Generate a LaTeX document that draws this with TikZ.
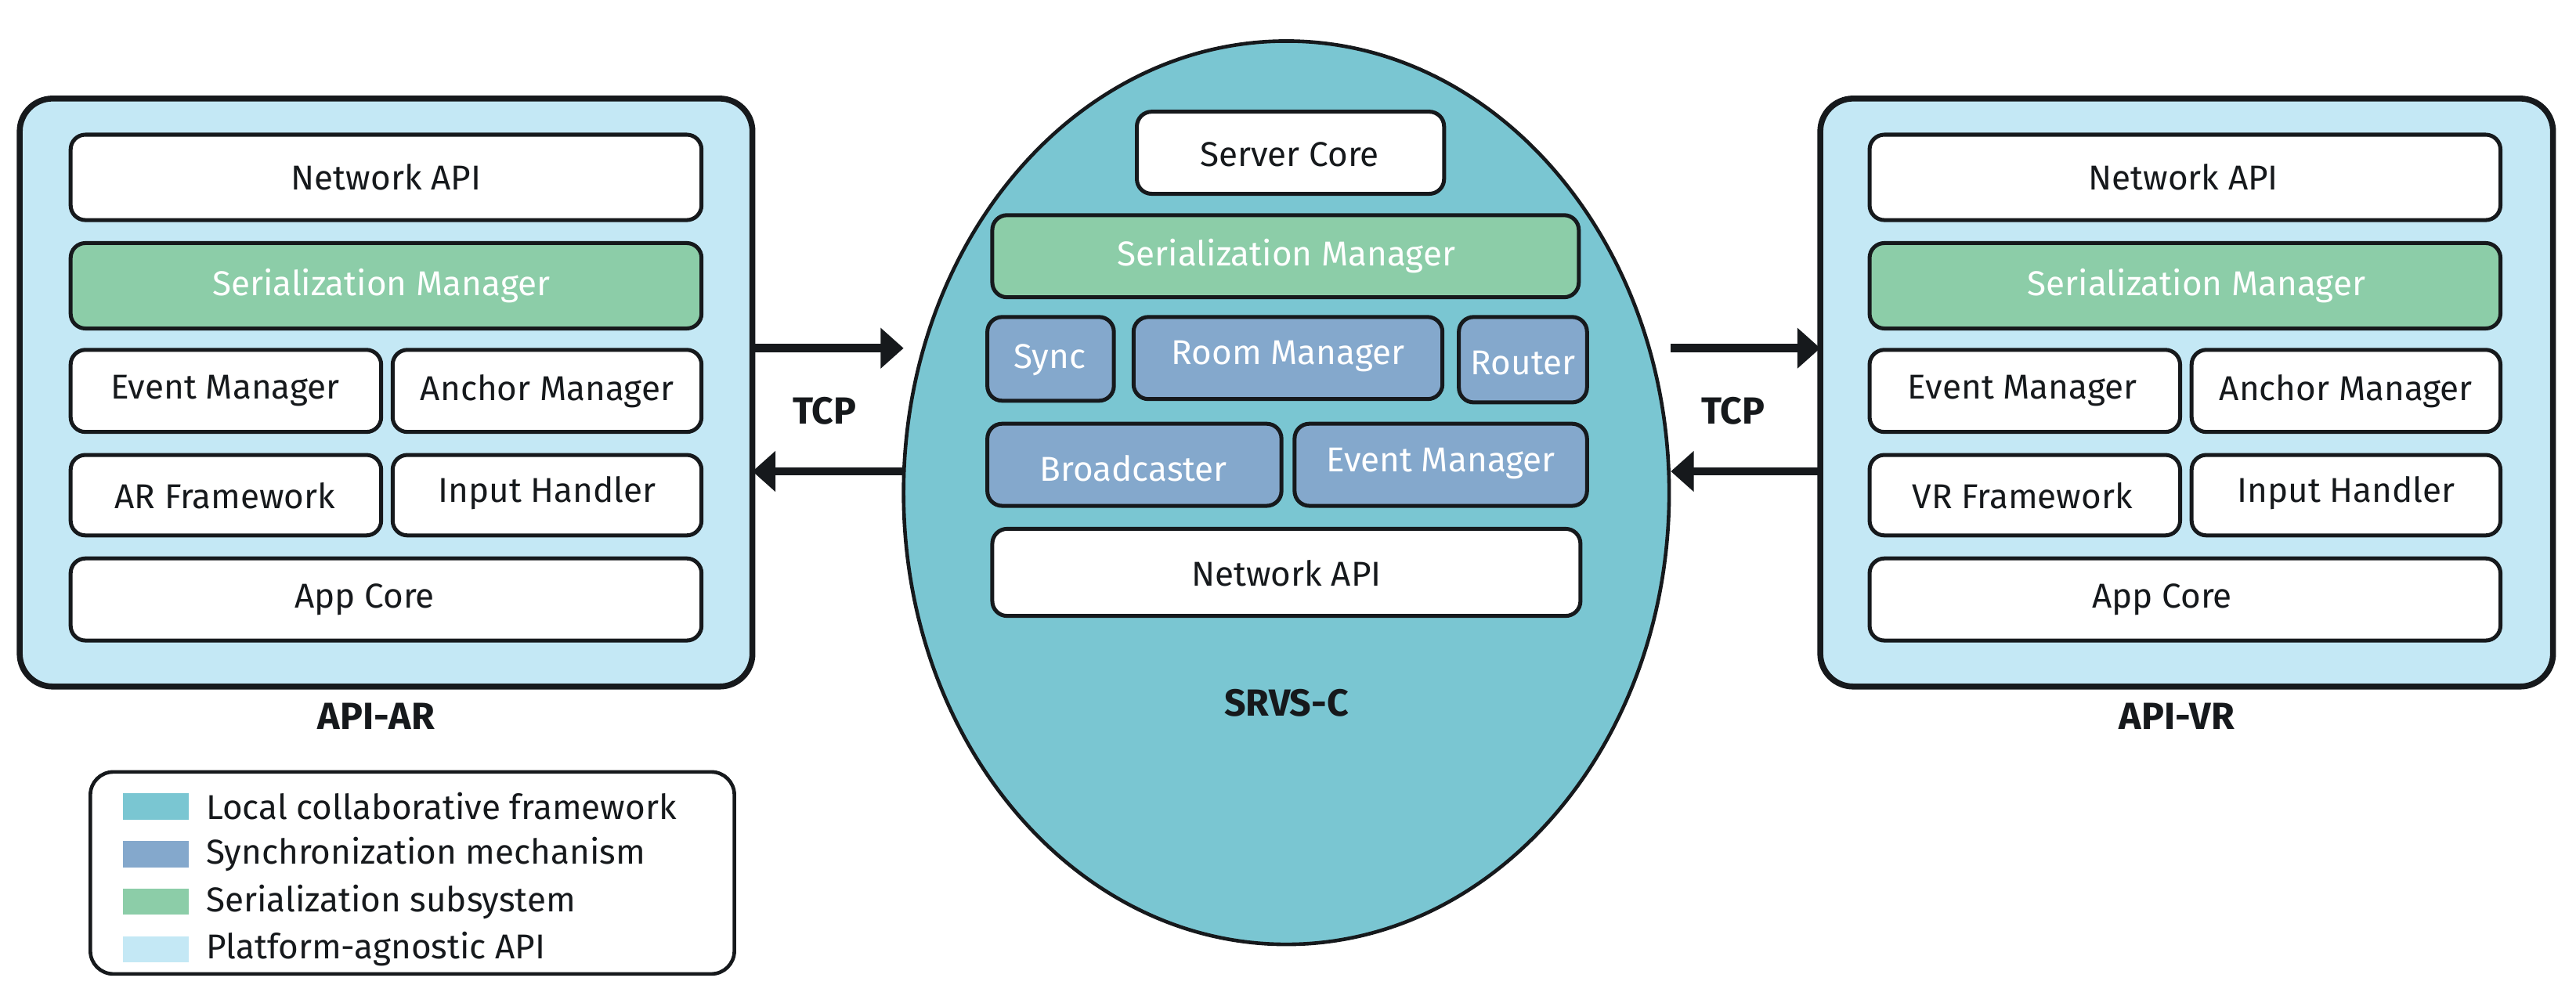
\documentclass[tikz,border=0pt]{standalone}
\usepackage{fontspec}
\setmainfont{Fira Sans}
\usetikzlibrary{arrows.meta,shapes.geometric}
\definecolor{lblue}{HTML}{C4E8F5}
\definecolor{tealc}{HTML}{7AC6D2}
\definecolor{steel}{HTML}{84A8CC}
\definecolor{mint}{HTML}{8CCDA8}
\definecolor{ink}{HTML}{16191C}
\begin{document}
\begin{tikzpicture}[x=1pt,y=-1pt,
  outer/.style={draw=ink,line width=3.6pt,fill=lblue,rounded corners=20pt},
  comp/.style={draw=ink,line width=2.4pt,fill=white,rounded corners=9pt,font=\fontsize{21}{24}\selectfont,text=ink},
  ser/.style={comp,fill=mint,text=white},
  syn/.style={comp,fill=steel,text=white},
  lbl/.style={font=\fontsize{23}{26}\selectfont\bfseries,text=ink},
  tcp/.style={draw=ink,line width=5pt,-{Triangle[length=14pt,width=24pt]}},
  sw/.style={minimum width=40pt,minimum height=16pt,inner sep=0pt},
  lt/.style={anchor=west,font=\fontsize{21}{24}\selectfont,text=ink}]
\useasboundingbox (0,0) rectangle (1568,610.7);
% left
\path[outer] (12,60) rectangle (458,418);
\draw[comp] (43,82) rectangle (427,134); \node[comp,draw=none,fill=none] (lnetapi) at (235,108) {Network API};
\draw[ser] (43,148) rectangle (427,200); \node[ser,draw=none,fill=none] (lser) at (232,174) {Serialization Manager};
\draw[comp] (43,213) rectangle (232,263); \node[comp,draw=none,fill=none] (lev) at (137,238) {Event Manager};
\draw[comp] (239,213) rectangle (427,263); \node[comp,draw=none,fill=none] (lan) at (333,238) {Anchor Manager};
\draw[comp] (43,277) rectangle (232,326); \node[comp,draw=none,fill=none] (lfw) at (137,302) {AR Framework};
\draw[comp] (239,277) rectangle (427,326); \node[comp,draw=none,fill=none] (lin) at (333,300) {Input Handler};
\draw[comp] (43,340) rectangle (427,390); \node[comp,draw=none,fill=none] (lapp) at (222,365) {App Core};
\node[lbl] (apiar) at (229,436) {API-AR};
% right
\path[outer] (1108,60) rectangle (1554,418);
\draw[comp] (1138,82) rectangle (1522,134); \node[comp,draw=none,fill=none] (rnetapi) at (1329,108) {Network API};
\draw[ser] (1138,148) rectangle (1522,200); \node[ser,draw=none,fill=none] (rser) at (1337,174) {Serialization Manager};
\draw[comp] (1138,213) rectangle (1327,263); \node[comp,draw=none,fill=none] (rev) at (1231,238) {Event Manager};
\draw[comp] (1334,213) rectangle (1522,263); \node[comp,draw=none,fill=none] (ran) at (1428,238) {Anchor Manager};
\draw[comp] (1138,277) rectangle (1327,326); \node[comp,draw=none,fill=none] (rfw) at (1231,302) {VR Framework};
\draw[comp] (1334,277) rectangle (1522,326); \node[comp,draw=none,fill=none] (rin) at (1428,300) {Input Handler};
\draw[comp] (1138,340) rectangle (1522,390); \node[comp,draw=none,fill=none] (rapp) at (1316,365) {App Core};
\node[lbl] (apivr) at (1325,436) {API-VR};
% server
\node[draw=ink,line width=2.2pt,fill=tealc,ellipse,minimum width=466pt,minimum height=550pt,inner sep=0pt] (srv) at (783,300) {};
\draw[comp] (692,68) rectangle (879,118); \node[comp,draw=none,fill=none] (score) at (785,94) {Server Core};
\draw[ser] (604,131) rectangle (961,181); \node[ser,draw=none,fill=none] (sser) at (783,156) {Serialization Manager};
\draw[syn] (601,193) rectangle (678,244); \node[syn,draw=none,fill=none] (ssync) at (639,219) {Sync};
\draw[syn] (690,193) rectangle (878,243); \node[syn,draw=none,fill=none] (sroom) at (784,217) {Room Manager};
\draw[syn] (888,193) rectangle (966,245); \node[syn,draw=none,fill=none] (srout) at (927,221) {Router};
\draw[syn] (601,258) rectangle (780,308); \node[syn,draw=none,fill=none] (sbc) at (690,285) {Broadcaster};
\draw[syn] (788,258) rectangle (966,308); \node[syn,draw=none,fill=none] (sev) at (877,282) {Event Manager};
\draw[comp] (604,322) rectangle (962,375); \node[comp,draw=none,fill=none] (snet) at (783,349) {Network API};
\node[lbl] (srvs) at (783,428) {SRVS-C};
% arrows
\coordinate (a1) at (458,212); \coordinate (a2) at (550,212);
\coordinate (a3) at (550,287); \coordinate (a4) at (458,287);
\coordinate (b1) at (1017,212); \coordinate (b2) at (1108,212);
\coordinate (b3) at (1108,287); \coordinate (b4) at (1017,287);
\draw[tcp] (a1) -- (a2); \draw[tcp] (a3) -- (a4);
\draw[tcp] (b1) -- (b2); \draw[tcp] (b3) -- (b4);
\node[lbl] (tcpl) at (502,250) {TCP};
\node[lbl] (tcpr) at (1055,250) {TCP};
% legend
\draw[draw=ink,line width=2.2pt,fill=white,rounded corners=14pt] (55,470) rectangle (447,593);
\node[sw,fill=tealc] (s1) at (95,491) {}; \node[lt] (t1) at (122,491) {Local collaborative framework};
\node[sw,fill=steel] (s2) at (95,520) {}; \node[lt] (t2) at (122,520) {Synchronization mechanism};
\node[sw,fill=mint] (s3) at (95,549) {}; \node[lt] (t3) at (122,549) {Serialization subsystem};
\node[sw,fill=lblue] (s4) at (95,578) {}; \node[lt] (t4) at (122,578) {Platform-agnostic API};
\end{tikzpicture}
\end{document}
